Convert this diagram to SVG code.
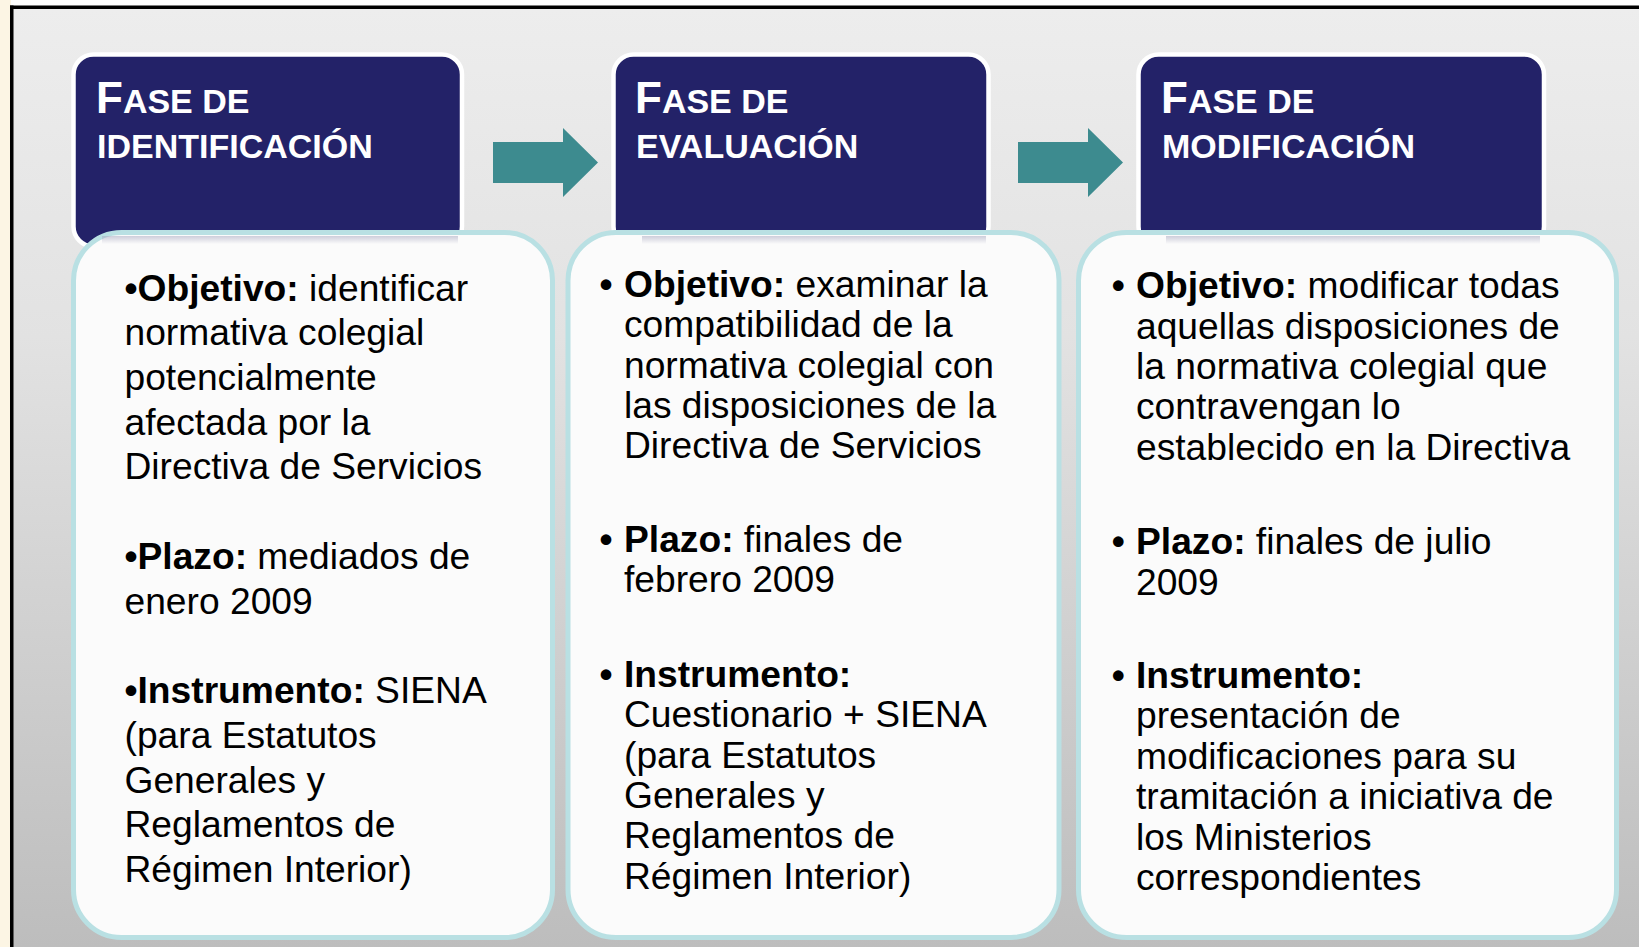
<svg xmlns="http://www.w3.org/2000/svg" width="1639" height="947" viewBox="0 0 1639 947">
  <defs>
    <linearGradient id="bg" x1="0" y1="0" x2="0" y2="1">
      <stop offset="0" stop-color="#ededed"/>
      <stop offset="0.35" stop-color="#e2e2e2"/>
      <stop offset="1" stop-color="#bdbdbd"/>
    </linearGradient>
    <linearGradient id="shadow" x1="0" y1="0" x2="0" y2="1">
      <stop offset="0" stop-color="#a8a8c0" stop-opacity="0.55"/>
      <stop offset="1" stop-color="#a8a8c0" stop-opacity="0"/>
    </linearGradient>
    <style>
      .hdr { fill: #232268; stroke: #ffffff; stroke-width: 4.5; }
      .box { fill: #fbfbfb; stroke: #b9e0e3; stroke-width: 5; }
      .arrow { fill: #3d8b8f; }
      .ht { font-family: "Liberation Sans", Arial, sans-serif; font-weight: bold; fill: #ffffff; font-size: 34px; }
      .big { font-size: 44px; }
      .t { font-family: "Liberation Sans", Arial, sans-serif; font-size: 37.2px; fill: #000000; }
      .b { font-weight: bold; }
    </style>
  </defs>

  <!-- background -->
  <rect x="0" y="0" width="1639" height="947" fill="#ffffff"/>
  <rect x="0" y="0" width="11" height="947" fill="#fcf5e4"/>
  <rect x="13" y="8.5" width="1626" height="938.5" fill="url(#bg)"/>
  <rect x="10" y="5.5" width="1629" height="3.5" fill="#000000"/>
  <rect x="10" y="5.5" width="3.5" height="941.5" fill="#000000"/>

  <g id="connectors">
    <polygon class="arrow" points="493,142 563,142 563,128 598,162.5 563,197 563,183 493,183"/>
    <polygon class="arrow" points="1018,142 1088,142 1088,128 1123,162.5 1088,197 1088,183 1018,183"/>
  </g>

  <g id="fase-identificacion">
    <rect class="hdr" x="73.5" y="54.5" width="388.5" height="192" rx="20"/>
    <text class="ht" x="96" y="112.5"><tspan class="big">F</tspan>ASE DE</text>
    <text class="ht" x="97" y="157.5">IDENTIFICACIÓN</text>
    <rect class="box" x="73.5" y="232.5" width="479" height="705" rx="48"/>
    <rect x="102" y="236" width="356" height="8" fill="url(#shadow)"/>
    <text class="t" x="124.5">
      <tspan x="124.5" y="300.5"><tspan class="b">•Objetivo:</tspan> identificar</tspan>
      <tspan x="124.5" y="345.2">normativa colegial</tspan>
      <tspan x="124.5" y="390">potencialmente</tspan>
      <tspan x="124.5" y="434.7">afectada por la</tspan>
      <tspan x="124.5" y="479.4">Directiva de Servicios</tspan>
      <tspan x="124.5" y="568.8"><tspan class="b">•Plazo:</tspan> mediados de</tspan>
      <tspan x="124.5" y="613.5">enero 2009</tspan>
      <tspan x="124.5" y="703"><tspan class="b">•Instrumento:</tspan> SIENA</tspan>
      <tspan x="124.5" y="747.7">(para Estatutos</tspan>
      <tspan x="124.5" y="792.5">Generales y</tspan>
      <tspan x="124.5" y="837.2">Reglamentos de</tspan>
      <tspan x="124.5" y="882">Régimen Interior)</tspan>
    </text>
  </g>

  <g id="fase-evaluacion">
    <rect class="hdr" x="613.5" y="54.5" width="375" height="192" rx="20"/>
    <text class="ht" x="635" y="112.5"><tspan class="big">F</tspan>ASE DE</text>
    <text class="ht" x="636" y="157.5">EVALUACIÓN</text>
    <rect class="box" x="568" y="232.5" width="491" height="705" rx="48"/>
    <rect x="642" y="236" width="344" height="8" fill="url(#shadow)"/>
    <text class="t b" x="599.5" y="297">•</text>
    <text class="t b" x="599.5" y="552">•</text>
    <text class="t b" x="599.5" y="686.8">•</text>
    <text class="t" x="624">
      <tspan x="624" y="297"><tspan class="b">Objetivo:</tspan> examinar la</tspan>
      <tspan x="624" y="337.4">compatibilidad de la</tspan>
      <tspan x="624" y="377.8">normativa colegial con</tspan>
      <tspan x="624" y="418.1">las disposiciones de la</tspan>
      <tspan x="624" y="458.4">Directiva de Servicios</tspan>
      <tspan x="624" y="552"><tspan class="b">Plazo:</tspan> finales de</tspan>
      <tspan x="624" y="592.4">febrero 2009</tspan>
      <tspan x="624" y="686.8" class="b">Instrumento:</tspan>
      <tspan x="624" y="727.2">Cuestionario + SIENA</tspan>
      <tspan x="624" y="767.6">(para Estatutos</tspan>
      <tspan x="624" y="808">Generales y</tspan>
      <tspan x="624" y="848.4">Reglamentos de</tspan>
      <tspan x="624" y="888.8">Régimen Interior)</tspan>
    </text>
  </g>

  <g id="fase-modificacion">
    <rect class="hdr" x="1138.5" y="54.5" width="405.5" height="192" rx="20"/>
    <text class="ht" x="1161" y="112.5"><tspan class="big">F</tspan>ASE DE</text>
    <text class="ht" x="1162" y="157.5">MODIFICACIÓN</text>
    <rect class="box" x="1078.5" y="232.5" width="538" height="705" rx="48"/>
    <rect x="1166" y="236" width="374" height="8" fill="url(#shadow)"/>
    <text class="t b" x="1111.8" y="298">•</text>
    <text class="t b" x="1111.8" y="554">•</text>
    <text class="t b" x="1111.8" y="687.8">•</text>
    <text class="t" x="1136">
      <tspan x="1136" y="298"><tspan class="b">Objetivo:</tspan> modificar todas</tspan>
      <tspan x="1136" y="338.5">aquellas disposiciones de</tspan>
      <tspan x="1136" y="378.9">la normativa colegial que</tspan>
      <tspan x="1136" y="419.4">contravengan lo</tspan>
      <tspan x="1136" y="459.9">establecido en la Directiva</tspan>
      <tspan x="1136" y="554"><tspan class="b">Plazo:</tspan> finales de julio</tspan>
      <tspan x="1136" y="594.5">2009</tspan>
      <tspan x="1136" y="687.8" class="b">Instrumento:</tspan>
      <tspan x="1136" y="728.3">presentación de</tspan>
      <tspan x="1136" y="768.7">modificaciones para su</tspan>
      <tspan x="1136" y="809.1">tramitación a iniciativa de</tspan>
      <tspan x="1136" y="849.5">los Ministerios</tspan>
      <tspan x="1136" y="889.9">correspondientes</tspan>
    </text>
  </g>
</svg>
